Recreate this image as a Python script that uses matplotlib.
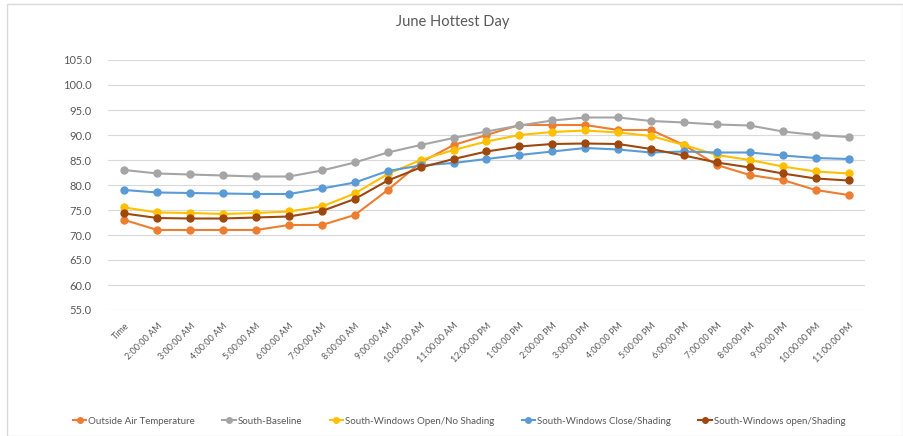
import matplotlib
matplotlib.use("Agg")
import matplotlib.pyplot as plt
from matplotlib.patches import Rectangle

plt.rcParams['font.family'] = ['Lato', 'DejaVu Sans']

times = ["Time", "2:00:00 AM", "3:00:00 AM", "4:00:00 AM", "5:00:00 AM", "6:00:00 AM",
         "7:00:00 AM", "8:00:00 AM", "9:00:00 AM", "10:00:00 AM", "11:00:00 AM",
         "12:00:00 PM", "1:00:00 PM", "2:00:00 PM", "3:00:00 PM", "4:00:00 PM",
         "5:00:00 PM", "6:00:00 PM", "7:00:00 PM", "8:00:00 PM", "9:00:00 PM",
         "10:00:00 PM", "11:00:00 PM"]

outside_air = [73, 71, 71, 71, 71, 72, 72, 74, 79, 84.5, 88, 90, 92, 92, 92, 91, 91,
               88, 84, 82, 81, 79, 78]
south_baseline = [83, 82.3, 82.1, 81.9, 81.7, 81.7, 82.9, 84.5, 86.5, 88, 89.4, 90.7,
                  91.9, 92.9, 93.5, 93.5, 92.8, 92.5, 92.1, 91.9, 90.7, 90, 89.6]
open_no_shading = [75.5, 74.5, 74.4, 74.2, 74.4, 74.7, 75.7, 78.3, 82.2, 85, 87, 88.7,
                   90, 90.6, 90.9, 90.5, 89.8, 88, 86, 85, 83.7, 82.7, 82.3]
close_shading = [79, 78.5, 78.4, 78.3, 78.2, 78.2, 79.3, 80.5, 82.8, 83.9, 84.4, 85.2,
                 86, 86.7, 87.4, 87.1, 86.5, 86.7, 86.5, 86.5, 85.9, 85.4, 85.2]
open_shading = [74.3, 73.4, 73.3, 73.3, 73.5, 73.7, 74.8, 77.2, 80.9, 83.5, 85.2, 86.7,
                87.7, 88.2, 88.3, 88.2, 87.2, 85.9, 84.5, 83.5, 82.3, 81.3, 80.9]

series = [
    ("Outside Air Temperature", outside_air, "#ED7D31"),
    ("South-Baseline", south_baseline, "#A5A5A5"),
    ("South-Windows Open/No Shading", open_no_shading, "#FFC000"),
    ("South-Windows Close/Shading", close_shading, "#5B9BD5"),
    ("South-Windows open/Shading", open_shading, "#9E480E"),
]

W, H = 904, 436
fig = plt.figure(figsize=(W / 100, H / 100), dpi=100)
ax = fig.add_axes([108 / W, 1 - 310 / H, (865 - 108) / W, 250 / H])

x = list(range(len(times)))
for name, vals, col in series:
    ax.plot(x, vals, color=col, lw=1.5, marker='o', ms=5, label=name)

ax.set_xlim(-0.5, len(times) - 0.5)
ax.set_ylim(55, 105)
ax.set_yticks([55 + 5 * i for i in range(11)])
ax.set_yticklabels([f"{55 + 5 * i:.1f}" for i in range(11)], fontsize=8, color="#595959")
ax.set_xticks(x)
ax.set_xticklabels(times, rotation=45, ha='right', rotation_mode='anchor',
                   fontsize=6.5, color="#595959")
ax.tick_params(length=0, pad=8)
ax.tick_params(axis='y', pad=12)
for s in ax.spines.values():
    s.set_visible(False)
ax.grid(axis='y', color='#D9D9D9', lw=0.8)
ax.set_axisbelow(True)

fig.text(453 / W, 1 - 22 / H, "June Hottest Day", ha='center', va='center',
         fontsize=10.5, color="#595959")

fig.legend(loc='center', bbox_to_anchor=(459 / W, 1 - 421 / H), ncol=5, frameon=False,
           fontsize=7, labelcolor="#595959", handlelength=1.4, columnspacing=2.8,
           handletextpad=0.2, markerscale=0.8)

fig.patches.append(Rectangle((7 / W, 0), (903 - 7) / W, 1 - 4 / H, transform=fig.transFigure,
                             fill=False, edgecolor='#D9D9D9', lw=1))

fig.savefig("out.png", dpi=100)
